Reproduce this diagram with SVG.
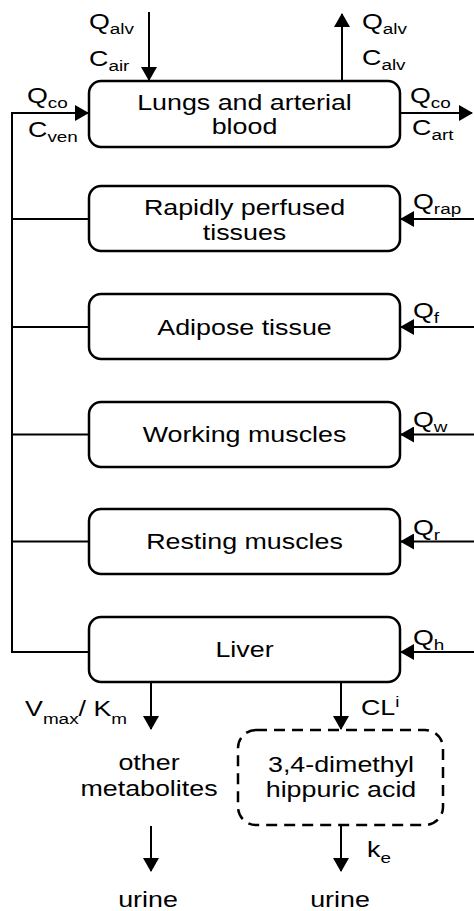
<svg xmlns="http://www.w3.org/2000/svg" width="474" height="911" viewBox="0 0 474 911">
<style>
.t{font-family:"Liberation Sans",Arial,sans-serif;font-size:22px;fill:#000}
.s{font-size:15.5px}
.box{fill:#fff;stroke:#000;stroke-width:2.5}
.dash{stroke-dasharray:11 7}
.ln{stroke:#000;stroke-width:2;fill:none}
.a{marker-end:url(#ah)}
</style>
<defs>
<marker id="ah" markerUnits="userSpaceOnUse" markerWidth="15" markerHeight="16" refX="13" refY="8" orient="auto">
<path d="M0,0 L14,8 L0,16 z" fill="#000"/>
</marker>
</defs>
<g id="connectors">
<path class="ln a" d="M89,652 H12 V113 H88"/>
<path class="ln" d="M12,219 H89 M12,327 H89 M12,434.5 H89 M12,541.5 H89"/>
<path class="ln a" d="M149,12 V80"/>
<path class="ln a" d="M342,81 V14"/>
<path class="ln a" d="M400,113 H472"/>
<path class="ln a" d="M474,219 H401"/>
<path class="ln a" d="M474,327 H401"/>
<path class="ln a" d="M474,434.5 H401"/>
<path class="ln a" d="M474,541.5 H401"/>
<path class="ln a" d="M474,652 H401"/>
<path class="ln a" d="M151,682 V729"/>
<path class="ln a" d="M341,682 V729"/>
<path class="ln a" d="M151,826 V871"/>
<path class="ln a" d="M341,825 V871"/>
</g>
<g id="lungs">
<rect class="box" x="89" y="81" width="311" height="66" rx="12"/>
<text class="t" text-anchor="middle" transform="translate(244.5,110) scale(1.22,1)">Lungs and arterial</text>
<text class="t" text-anchor="middle" transform="translate(244.5,134) scale(1.22,1)">blood</text>
</g>
<g id="rapid">
<rect class="box" x="89" y="186" width="311" height="65" rx="12"/>
<text class="t" text-anchor="middle" transform="translate(244.5,215) scale(1.22,1)">Rapidly perfused</text>
<text class="t" text-anchor="middle" transform="translate(244.5,240) scale(1.22,1)">tissues</text>
</g>
<g id="adipose">
<rect class="box" x="89" y="294" width="311" height="65" rx="12"/>
<text class="t" text-anchor="middle" transform="translate(244.5,334.5) scale(1.22,1)">Adipose tissue</text>
</g>
<g id="working">
<rect class="box" x="89" y="402" width="311" height="65" rx="12"/>
<text class="t" text-anchor="middle" transform="translate(244.5,442) scale(1.22,1)">Working muscles</text>
</g>
<g id="resting">
<rect class="box" x="89" y="509" width="311" height="65" rx="12"/>
<text class="t" text-anchor="middle" transform="translate(244.5,549) scale(1.22,1)">Resting muscles</text>
</g>
<g id="liver">
<rect class="box" x="89" y="617" width="311" height="65" rx="12"/>
<text class="t" text-anchor="middle" transform="translate(244.5,657) scale(1.22,1)">Liver</text>
</g>
<g id="hippuric">
<rect class="box dash" x="238" y="730" width="205" height="95" rx="18"/>
<text class="t" text-anchor="middle" transform="translate(341,772) scale(1.22,1)">3,4-dimethyl</text>
<text class="t" text-anchor="middle" transform="translate(341,797) scale(1.22,1)">hippuric acid</text>
</g>
<g id="other">
<text class="t" text-anchor="middle" transform="translate(149,770) scale(1.22,1)">other</text>
<text class="t" text-anchor="middle" transform="translate(149,796) scale(1.22,1)">metabolites</text>
</g>
<g id="urine1">
<text class="t" text-anchor="middle" transform="translate(148,907) scale(1.22,1)">urine</text>
</g>
<g id="urine2">
<text class="t" text-anchor="middle" transform="translate(340,907) scale(1.22,1)">urine</text>
</g>
<g id="labels">
<text class="t" transform="translate(89,29) scale(1.22,1)">Q<tspan class="s" dy="5">alv</tspan></text>
<text class="t" transform="translate(89,66) scale(1.22,1)">C<tspan class="s" dy="5">air</tspan></text>
<text class="t" transform="translate(27,103) scale(1.22,1)">Q<tspan class="s" dy="5">co</tspan></text>
<text class="t" transform="translate(28,137) scale(1.22,1)">C<tspan class="s" dy="5">ven</tspan></text>
<text class="t" transform="translate(362,29) scale(1.22,1)">Q<tspan class="s" dy="5">alv</tspan></text>
<text class="t" transform="translate(362,65) scale(1.22,1)">C<tspan class="s" dy="5">alv</tspan></text>
<text class="t" transform="translate(410,103) scale(1.22,1)">Q<tspan class="s" dy="5">co</tspan></text>
<text class="t" transform="translate(412,135) scale(1.22,1)">C<tspan class="s" dy="5">art</tspan></text>
<text class="t" transform="translate(413,209) scale(1.22,1)">Q<tspan class="s" dy="5">rap</tspan></text>
<text class="t" transform="translate(413,318) scale(1.22,1)">Q<tspan class="s" dy="5">f</tspan></text>
<text class="t" transform="translate(413,427) scale(1.22,1)">Q<tspan class="s" dy="5">w</tspan></text>
<text class="t" transform="translate(413,535) scale(1.22,1)">Q<tspan class="s" dy="5">r</tspan></text>
<text class="t" transform="translate(413,645) scale(1.22,1)">Q<tspan class="s" dy="5">h</tspan></text>
<text class="t" transform="translate(25,716) scale(1.22,1)">V<tspan class="s" dy="8">max</tspan><tspan dy="-8">/ K</tspan><tspan class="s" dy="8">m</tspan></text>
<text class="t" transform="translate(361,715) scale(1.22,1)">CL<tspan class="s" dy="-8">i</tspan></text>
<text class="t" transform="translate(367,857) scale(1.22,1)">k<tspan class="s" dy="6">e</tspan></text>
</g>
</svg>
